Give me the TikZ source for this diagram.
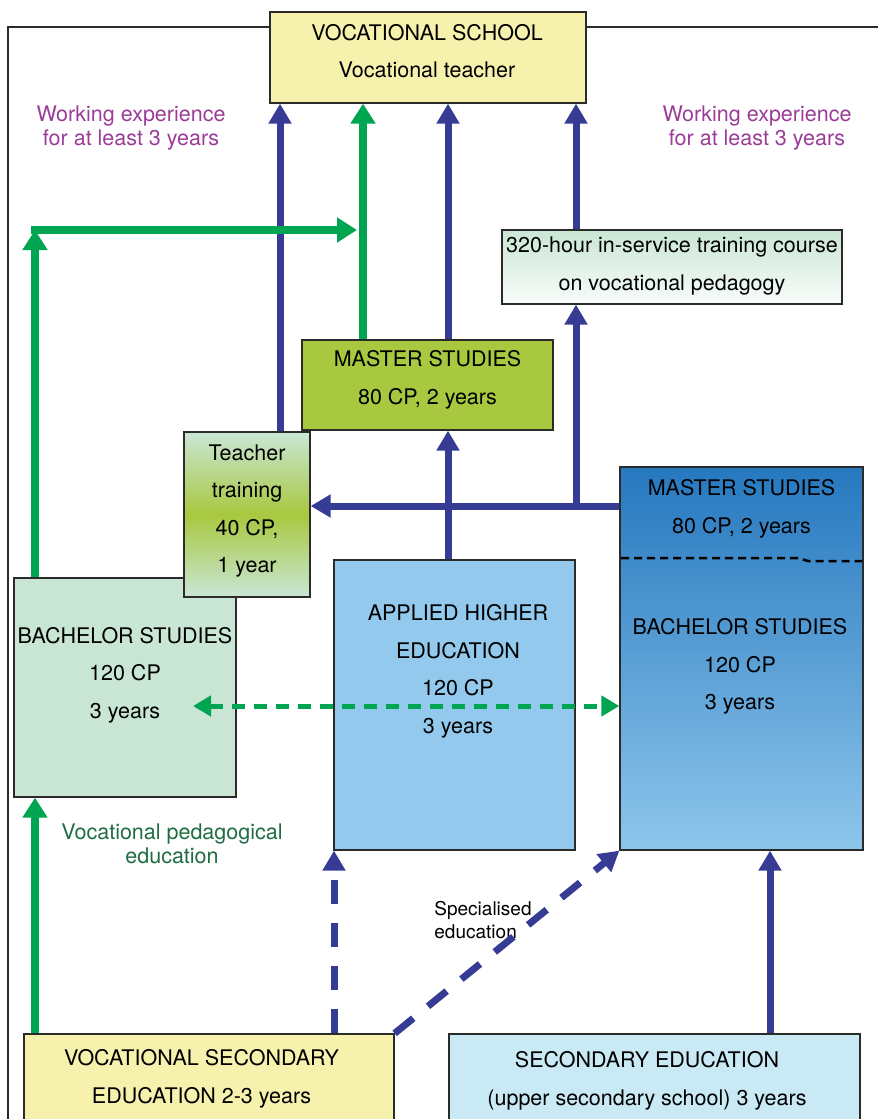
\documentclass[tikz,border=0pt]{standalone}
\usepackage{fontspec}
\setmainfont{TeX Gyre Heros}
\usetikzlibrary{arrows.meta,positioning}
\definecolor{boxline}{HTML}{2B2B2B}
\definecolor{boxyellow}{HTML}{F7F1AE}
\definecolor{lgreen}{HTML}{C9E6D5}
\definecolor{olive}{HTML}{A8C83F}
\definecolor{ahe}{HTML}{93C9ED}
\definecolor{rtop}{HTML}{2678BF}
\definecolor{rbot}{HTML}{8EC6EB}
\definecolor{secblue}{HTML}{C9E9F5}
\definecolor{arrowblue}{HTML}{363B93}
\definecolor{arrowgreen}{HTML}{00A551}
\definecolor{workpurple}{HTML}{9B3C98}
\definecolor{pedgreen}{HTML}{1F6D43}
\begin{document}
\begin{tikzpicture}[x=1pt,y=-1pt,
    box/.style={draw=boxline,line width=1.3pt,inner sep=0pt},
    txt/.style={align=center,font=\fontsize{21.5}{37.5}\selectfont},
    lbl/.style={align=center,font=\fontsize{21.5}{24}\selectfont},
    barrow/.style={draw=arrowblue,line width=7pt,-{Triangle[width=22pt,length=20pt]}},
    garrow/.style={draw=arrowgreen,line width=7.5pt,-{Triangle[width=24pt,length=20pt]}},
    bdash/.style={barrow,dash pattern=on 24pt off 19pt},
    gdash/.style={draw=arrowgreen,line width=5pt,dash pattern=on 13pt off 9pt,{Triangle[width=20pt,length=18pt]}-{Triangle[width=20pt,length=18pt]}}]
  \useasboundingbox (0,0) rectangle (878,1119);
  \draw[boxline,line width=1.3pt] (8,1130) -- (8,27) -- (890,27);
  \node[box,fill=boxyellow,minimum width=316pt,minimum height=91pt] (vs) at (428,57.5) {};
  \node[txt] (vstxt) at (427,51) {VOCATIONAL SCHOOL\\Vocational teacher};
  \node[lbl,text=workpurple] (work1) at (131,128.5) {Working experience\\for at least 3 years};
  \node[lbl,text=workpurple] (work2) at (757,128.5) {Working experience\\for at least 3 years};
  \node[box,top color=lgreen,bottom color=lgreen!12,minimum width=340pt,minimum height=74pt] (serv) at (672,267) {};
  \node[txt] (servtxt) at (672,266) {320-hour in-service training course\\on vocational pedagogy};
  \node[box,fill=olive,minimum width=251pt,minimum height=90pt] (mast) at (427.5,385) {};
  \node[txt] (masttxt) at (427.5,380) {MASTER STUDIES\\80 CP, 2 years};
  \node[box,fill=lgreen,minimum width=222pt,minimum height=219pt] (bach) at (125,687.5) {};
  \node[txt] (bachtxt) at (125,675) {BACHELOR STUDIES\\120 CP\\3 years};
  \node[box,top color=lgreen,bottom color=lgreen,middle color=olive,minimum width=126pt,minimum height=165pt] (tt) at (247,514.5) {};
  \node[txt] (tttxt) at (247,511) {Teacher\\training\\40 CP,\\1 year};
  \node[box,fill=ahe,minimum width=241pt,minimum height=290pt] (ahe) at (454.5,705) {};
  \node[txt] (ahetxt) at (458,671.5) {APPLIED HIGHER\\EDUCATION\\120 CP\\3 years};
  \node[box,top color=rtop,bottom color=rbot,minimum width=243pt,minimum height=383pt] (rbox) at (741.5,658.5) {};
  \draw[black,line width=2.5pt,dash pattern=on 8pt off 5pt] (621,558) -- (798,558) -- (808,561) -- (862,561);
  \node[txt] (rmtxt) at (741.5,509) {MASTER STUDIES\\80 CP, 2 years};
  \node[txt] (rbtxt) at (740,666.5) {BACHELOR STUDIES\\120 CP\\3 years};
  \node[box,fill=boxyellow,minimum width=370pt,minimum height=91pt] (vse) at (209,1079.5) {};
  \node[txt] (vsetxt) at (201.5,1079) {VOCATIONAL SECONDARY\\EDUCATION 2-3 years};
  \node[box,fill=secblue,minimum width=411pt,minimum height=91pt] (se) at (654.5,1079.5) {};
  \node[txt] (setxt) at (647,1081) {SECONDARY EDUCATION\\(upper secondary school) 3 years};
  \node[lbl,text=pedgreen] (vped) at (172,843.5) {Vocational pedagogical\\education};
  \node[align=left,font=\fontsize{19}{23}\selectfont] (spec) at (483,920.5) {Specialised\\education};
  \coordinate (x35) at (35,0); \coordinate (x280) at (280,0); \coordinate (x334) at (334,0);
  \coordinate (x363) at (363,0); \coordinate (x448) at (448,0); \coordinate (x576) at (576,0);
  \coordinate (x770) at (770,0); \coordinate (fork) at (576,506); \coordinate (turn) at (35,230);
  \coordinate (join) at (357,230); \coordinate (dl) at (193,706);
  \draw[barrow] (x280 |- tt.north) -- (x280 |- vs.south);
  \draw[barrow] (x448 |- mast.north) -- (x448 |- vs.south);
  \draw[barrow] (x576 |- serv.north) -- (x576 |- vs.south);
  \draw[barrow] (rbox.west |- fork) -- (tt.east |- fork);
  \draw[barrow] (fork) -- (fork |- serv.south);
  \draw[barrow] (x448 |- ahe.north) -- (x448 |- mast.south);
  \draw[barrow] (x770 |- se.north) -- (x770 |- rbox.south);
  \draw[bdash] (x334 |- vse.north) -- (x334 |- ahe.south);
  \draw[bdash] (vse.north east) -- (rbox.south west);
  \draw[garrow] (x363 |- mast.north) -- (x363 |- vs.south);
  \draw[garrow] (x35 |- bach.north) -- (turn);
  \draw[garrow] ([xshift=-3.75pt]turn) -- (join);
  \draw[garrow] (x35 |- vse.north) -- (x35 |- bach.south);
  \draw[gdash] (dl) -- (rbox.west |- dl);
\end{tikzpicture}
\end{document}
